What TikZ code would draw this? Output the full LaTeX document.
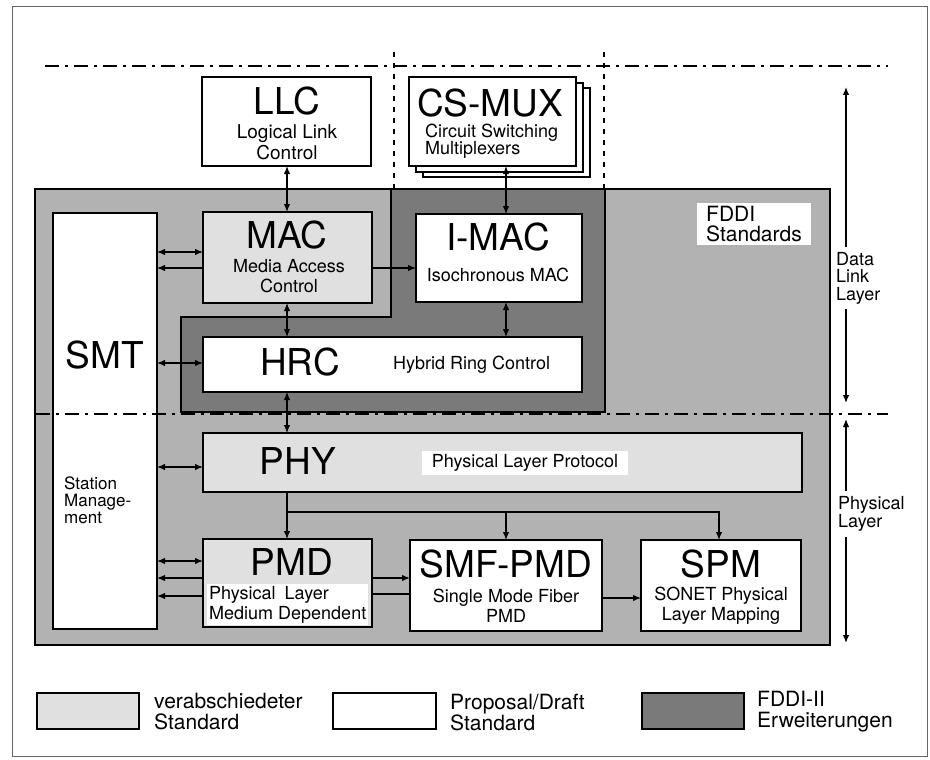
\documentclass[tikz,border=0pt]{standalone}
\usepackage{fontspec}
\setmainfont{TeX Gyre Heros}
\usetikzlibrary{arrows.meta,fit}
\begin{document}
\begin{tikzpicture}[x=1pt,y=-1pt,
  lightreg/.style={fill=black!30, draw=black, line width=1.5pt},
  darkreg/.style={fill=black!52, draw=black, line width=1.5pt},
  stdbox/.style={draw, line width=2.6pt, fill=black!12, inner sep=0pt, outer sep=0pt},
  newbox/.style={draw, line width=1.2pt, fill=white, inner sep=0pt, outer sep=0pt},
  darkbox/.style={draw, line width=1.2pt, fill=black!52, inner sep=0pt, outer sep=0pt},
  big/.style={font=\fontsize{37}{40}\selectfont, inner sep=0pt},
  small/.style={font=\fontsize{18}{20}\selectfont, align=center, inner sep=1pt},
  legtext/.style={font=\fontsize{21}{21}\selectfont, align=left, inner sep=0pt},
  conn/.style={line width=1.3pt},
  dbl/.style={conn, {Latex[length=8pt,width=6.5pt]}-{Latex[length=8pt,width=6.5pt]}},
  one/.style={conn, -{Latex[length=8pt,width=6.5pt]}},
  dashdot/.style={line width=1.6pt, dash pattern=on 14pt off 6pt on 3pt off 6pt},
  vdash/.style={line width=1.2pt, dash pattern=on 5pt off 6pt}
]
\useasboundingbox (0,0) rectangle (930,760);
% frame
\draw[black!60, line width=1pt] (12,7) rectangle (927,756);
% layer separators (top)
\draw[dashdot] (45,66) -- (888,66);
\draw[vdash] (394,52) -- (394,188);
\draw[vdash] (604,52) -- (604,188);
% regions
\draw[lightreg] (35,189) rectangle (830,645);
\draw[darkreg] (391,189) -- (605,189) -- (605,412) -- (181,412) -- (181,317) -- (391,317) -- cycle;
% boxes
\node[newbox, fit={(202,77)(371,166)}] (llc) {};
\node[newbox, fit={(423,88)(590,177)}] (mux3) {};
\node[newbox, fit={(416,83)(583,172)}] (mux2) {};
\node[newbox, fit={(409,77)(576,166)}] (mux) {};
\node[newbox, fit={(53,213)(157,629)}] (smt) {};
\node[stdbox, fit={(203,212)(372,303)}] (mac) {};
\node[newbox, fit={(416,214)(582,302)}] (imac) {};
\node[newbox, fit={(203,337)(582,392)}] (hrc) {};
\node[stdbox, fit={(203,433)(802,492)}] (phy) {};
\node[stdbox, fit={(203,539)(372,627)}] (pmd) {};
\node[newbox, fit={(410,540)(602,631)}] (smf) {};
\node[newbox, fit={(641,540)(801,631)}] (spm) {};
% texts
\node[big] (tllc) at (287,101) {LLC};
\node[small, font=\fontsize{19}{21}\selectfont] (sllc) at (287,142) {Logical Link\\Control};
\node[big] (tmux) at (490,103) {CS-MUX};
\node[small, font=\fontsize{18}{17.5}\selectfont, align=left, anchor=west] (smux) at (424,141) {Circuit Switching\\Multiplexers};
\node[big] (tmac) at (287,235) {MAC};
\node[small] (smac) at (289,276) {Media Access\\Control};
\node[big] (timac) at (498,237) {I-MAC};
\node[small] (simac) at (498,275) {Isochronous MAC};
\node[big] (thrc) at (300,362) {HRC};
\node[small, anchor=west] (shrc) at (392,365) {Hybrid Ring Control};
\node[big] (tsmt) at (105,355) {SMT};
\node[small, font=\fontsize{17}{17}\selectfont, align=left, anchor=west] (ssmt) at (63,500) {Station\\Manage-\\ment};
\node[big] (tphy) at (298,461) {PHY};
\node[small, fill=white, inner xsep=10pt, inner ysep=3pt] (sphy) at (525,463) {Physical Layer Protocol};
\node[big] (tpmd) at (292,562) {PMD};
\node[small, fill=white, align=left, anchor=west, inner sep=2pt] (spmd) at (207,604.5) {Physical\enspace Layer\\Medium Dependent};
\node[big] (tsmf) at (506,564) {SMF-PMD};
\node[small] (ssmf) at (506,606) {Single Mode Fiber\\PMD};
\node[big] (tspm) at (721,564) {SPM};
\node[small] (sspm) at (721,606) {SONET Physical\\Layer Mapping};
\node[font=\fontsize{21}{20}\selectfont, fill=white, align=left, anchor=west, inner xsep=9pt, inner ysep=3pt] (fddi) at (697,224) {FDDI\\Standards};
% helper coordinates
\coordinate (xa) at (287,0);
\coordinate (xb) at (506,0);
\coordinate (xs) at (719,0);
\coordinate (ya) at (0,252);
\coordinate (yb) at (0,268);
\coordinate (yc) at (0,363);
\coordinate (yd) at (0,467);
\coordinate (ye) at (0,561);
\coordinate (yf) at (0,578);
\coordinate (yg) at (0,596);
\coordinate (yh) at (0,512);
\coordinate (yi) at (0,598);
\coordinate (yj) at (0,594);
% connectors
\draw[dbl] (llc.south -| xa) -- (mac.north -| xa);
\draw[dbl] (mac.south -| xa) -- (hrc.north -| xa);
\draw[dbl] (hrc.south -| xa) -- (phy.north -| xa);
\draw[dbl] (mux.south -| xb) -- (imac.north -| xb);
\draw[dbl] (imac.south -| xb) -- (hrc.north -| xb);
\draw[dbl] (smt.east |- ya) -- (mac.west |- ya);
\draw[one] (mac.west |- yb) -- (smt.east |- yb);
\draw[one] (mac.east |- yb) -- (imac.west |- yb);
\draw[dbl] (smt.east |- yc) -- (hrc.west |- yc);
\draw[dbl] (smt.east |- yd) -- (phy.west |- yd);
\draw[dbl] (smt.east |- ye) -- (pmd.west |- ye);
\draw[one] (pmd.west |- yf) -- (smt.east |- yf);
\draw[one] (pmd.west |- yg) -- (smt.east |- yg);
\draw[one] (pmd.east |- yf) -- (smf.west |- yf);
\draw[conn] (pmd.east |- yj) -- (smf.west |- yj);
\draw[one] (smf.east |- yi) -- (spm.west |- yi);
\draw[one] (phy.south -| xa) -- (pmd.north -| xa);
\draw[one] (xa |- yh) -| (spm.north -| xs);
\draw[one] (xb |- yh) -- (smf.north -| xb);
% middle separator
\draw[dashdot] (36,414) -- (888,414);
% layer arrows
\node[small, font=\fontsize{18}{17.5}\selectfont, align=left, anchor=west, inner sep=5pt] (dl) at (831,278) {Data\\Link\\Layer};
\coordinate (dltop) at (846,87);
\coordinate (dlbot) at (846,403);
\draw[one] (dl.north -| dltop) -- (dltop);
\draw[one] (dl.south -| dltop) -- (dlbot);
\node[small, font=\fontsize{18}{17}\selectfont, align=left, anchor=west, inner sep=5pt] (pl) at (833,514) {Physical\\Layer};
\coordinate (pltop) at (846,419);
\coordinate (plbot) at (846,643);
\draw[one] (pl.north -| pltop) -- (pltop);
\draw[one] (pl.south -| pltop) -- (plbot);
% legend
\node[stdbox, fit={(37,693)(139,729)}] (lg1) {};
\node[legtext, anchor=west] (lt1) at (154,712) {verabschiedeter\\Standard};
\node[newbox, fit={(333,693)(436,729)}] (lg2) {};
\node[legtext, anchor=west] (lt2) at (450,712) {Proposal/Draft\\Standard};
\node[darkbox, fit={(642,693)(744,729)}] (lg3) {};
\node[legtext, anchor=west] (lt3) at (757,712) {FDDI-II\\Erweiterungen};
\end{tikzpicture}
\end{document}
